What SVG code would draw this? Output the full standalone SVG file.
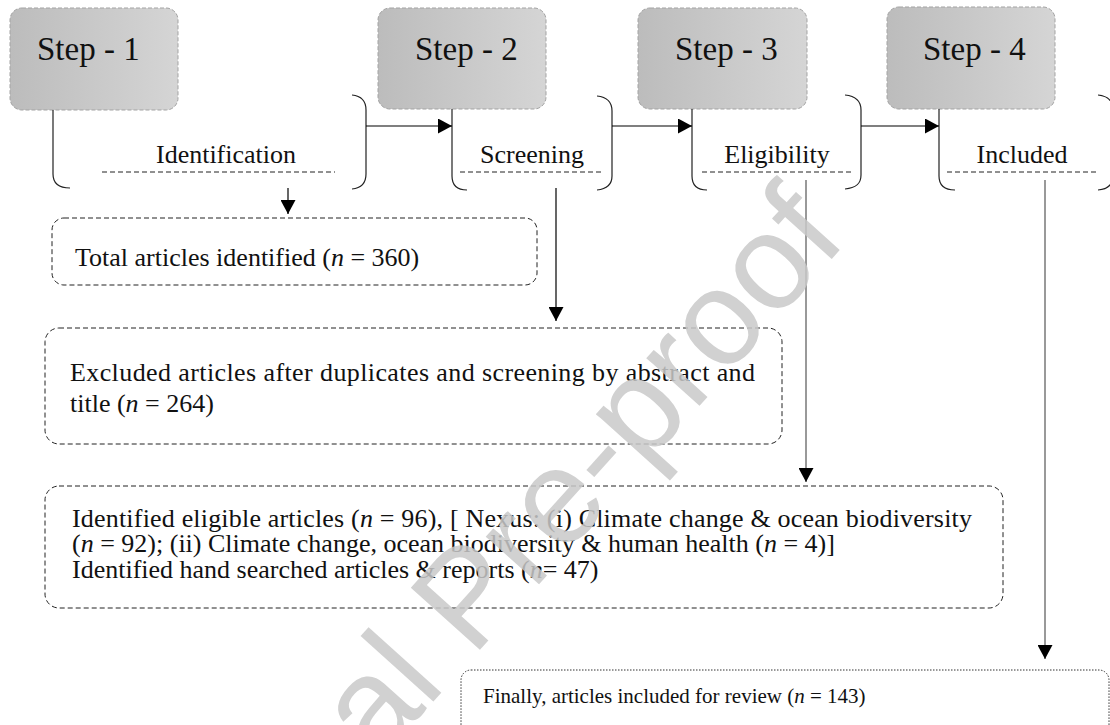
<svg xmlns="http://www.w3.org/2000/svg" width="1110" height="725" viewBox="0 0 1110 725">
<defs>
<linearGradient id="stepFill" x1="0" y1="0" x2="1" y2="0">
<stop offset="0" stop-color="#bcbcbc"/>
<stop offset="1" stop-color="#d5d5d5"/>
</linearGradient>
<marker id="ah" markerWidth="14" markerHeight="15" refX="14" refY="7.5" orient="auto" markerUnits="userSpaceOnUse">
<path d="M0,0 L14,7.5 L0,15 z" fill="#000"/>
</marker>
</defs>
<style>
.step{fill:url(#stepFill);stroke:#a3a3a3;stroke-width:1;stroke-dasharray:4 2}
.stxt{font-family:"Liberation Serif","Times New Roman",serif;font-size:33px;fill:#111}
.lbl{font-family:"Liberation Serif","Times New Roman",serif;font-size:26px;fill:#111;text-anchor:middle}
.body{font-family:"Liberation Serif","Times New Roman",serif;font-size:26px;fill:#111}
.small{font-family:"Liberation Serif","Times New Roman",serif;font-size:21px;fill:#111}
.brk{fill:none;stroke:#222;stroke-width:1.2}
.dl{fill:none;stroke:#222;stroke-width:1;stroke-dasharray:5 3}
.box{fill:none;stroke:#222;stroke-width:1;stroke-dasharray:5 3}
.dot{fill:none;stroke:#333;stroke-width:1;stroke-dasharray:1.5 1.5}
.conn{fill:none;stroke:#000;stroke-width:1.2}
.conng{fill:none;stroke:#555;stroke-width:1.2}
.wm{font-family:"Liberation Sans",Arial,sans-serif;font-size:135px;fill:#c9c9c9;opacity:0.85}
</style>

<g id="step1">
<rect class="step" x="10" y="8" width="168" height="102" rx="12"/>
<text class="stxt" x="37" y="60">Step - 1</text>
<path class="brk" d="M53,110 V174 C53,183 58,188 70,188"/>
<path class="brk" d="M352,95 C362,96 366,101 366,110 V174 C366,183 362,188 352,189"/>
<line class="dl" x1="102" y1="172" x2="335" y2="172"/>
<text class="lbl" x="226" y="163">Identification</text>
</g>

<g id="step2">
<rect class="step" x="378" y="8" width="168" height="101" rx="12"/>
<text class="stxt" x="415" y="60">Step - 2</text>
<path class="brk" d="M452,109 V176 C452,185 457,190 467,190"/>
<path class="brk" d="M597,96 C607,97 612,102 612,111 V176 C612,185 607,189 597,190"/>
<line class="dl" x1="460" y1="172" x2="603" y2="172"/>
<text class="lbl" x="532" y="163">Screening</text>
</g>

<g id="step3">
<rect class="step" x="638" y="8" width="169" height="101" rx="12"/>
<text class="stxt" x="675" y="60">Step - 3</text>
<path class="brk" d="M692,109 V176 C692,185 697,190 707,190"/>
<path class="brk" d="M845,95 C855,96 861,101 861,110 V175 C861,184 856,188 845,189"/>
<line class="dl" x1="702" y1="172" x2="853" y2="172"/>
<text class="lbl" x="777" y="163">Eligibility</text>
</g>

<g id="step4">
<rect class="step" x="887" y="7" width="168" height="102" rx="12"/>
<text class="stxt" x="923" y="60">Step - 4</text>
<path class="brk" d="M939,109 V176 C939,185 944,190 955,190"/>
<path class="brk" d="M1098,95 C1108,96 1113,101 1113,110 V176 C1113,185 1108,189 1098,190"/>
<line class="dl" x1="947" y1="172" x2="1098" y2="172"/>
<text class="lbl" x="1022" y="163">Included</text>
</g>

<g id="total">
<rect class="box" x="52" y="218" width="485" height="67" rx="12"/>
<text class="body" x="75" y="266">Total articles identified (<tspan font-style="italic">n</tspan> = 360)</text>
</g>

<g id="excluded">
<rect class="box" x="45" y="328" width="737" height="116" rx="14"/>
<text class="body" x="70" y="381" textLength="685" lengthAdjust="spacing">Excluded articles after duplicates and screening by abstract and</text>
<text class="body" x="70" y="412">title (<tspan font-style="italic">n</tspan> = 264)</text>
</g>

<g id="eligible">
<rect class="box" x="45" y="486" width="958" height="122" rx="14"/>
<text class="body" x="72" y="527" textLength="900" lengthAdjust="spacing">Identified eligible articles (<tspan font-style="italic">n</tspan> = 96), [ Nexus: (i) Climate change &amp; ocean biodiversity</text>
<text class="body" x="72" y="552">(<tspan font-style="italic">n</tspan> = 92); (ii) Climate change, ocean biodiversity &amp; human health (<tspan font-style="italic">n</tspan> = 4)]</text>
<text class="body" x="72" y="578">Identified hand searched articles &amp; reports (<tspan font-style="italic">n</tspan>= 47)</text>
</g>

<g id="final">
<rect class="dot" x="461" y="670" width="648" height="90" rx="10"/>
<text class="small" x="483" y="703">Finally, articles included for review (<tspan font-style="italic">n</tspan> = 143)</text>
</g>

<g id="connectors">
<line class="conn" x1="366" y1="126" x2="452" y2="126" marker-end="url(#ah)"/>
<line class="conn" x1="612" y1="126" x2="692" y2="126" marker-end="url(#ah)"/>
<line class="conn" x1="861" y1="126" x2="939" y2="126" marker-end="url(#ah)"/>
<line class="conn" x1="288" y1="188" x2="288" y2="214" marker-end="url(#ah)"/>
<line class="conn" x1="556" y1="188" x2="556" y2="321" marker-end="url(#ah)"/>
<line class="conng" x1="806" y1="180" x2="806" y2="482" marker-end="url(#ah)"/>
<line class="conng" x1="1045" y1="180" x2="1045" y2="659" marker-end="url(#ah)"/>
</g>

<text class="wm" transform="translate(377 764) rotate(-48)">al Pre-proof</text>
</svg>
